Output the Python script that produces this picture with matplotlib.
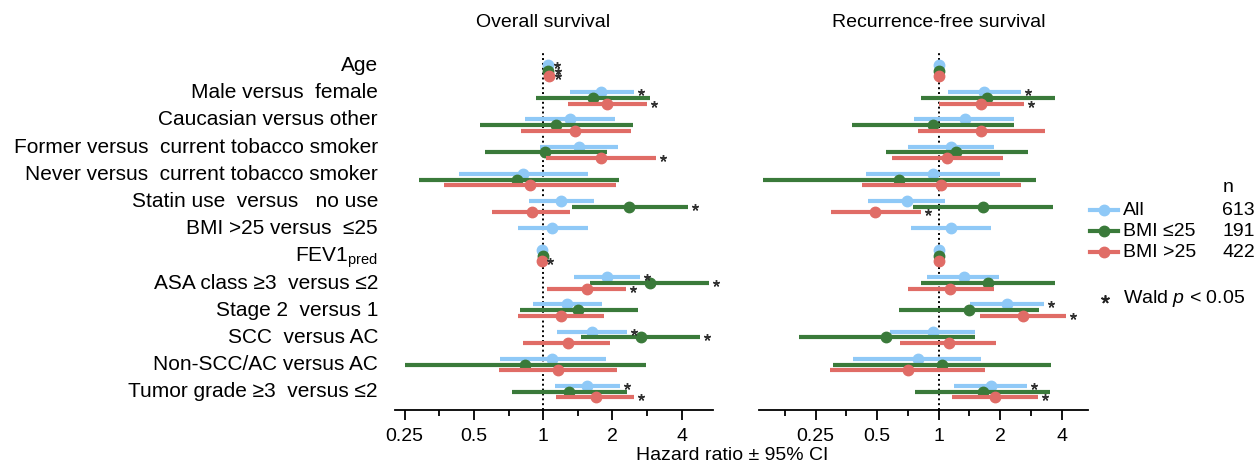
import numpy as np
import matplotlib
matplotlib.use('Agg')
import matplotlib.pyplot as plt
import matplotlib.transforms as mtransforms
from matplotlib.ticker import FixedLocator, NullFormatter

plt.rcParams['font.family'] = ['Liberation Sans', 'DejaVu Sans']
plt.rcParams['mathtext.fontset'] = 'custom'
plt.rcParams['mathtext.rm'] = 'Liberation Sans'
plt.rcParams['mathtext.it'] = 'Liberation Sans:italic'

row_labels = ['Age', 'Male versus  female', 'Caucasian versus other',
              'Former versus  current tobacco smoker',
              'Never versus  current tobacco smoker',
              'Statin use  versus   no use', 'BMI >25 versus  ≤25',
              'FEV1$_{\\mathregular{pred}}$', 'ASA class ≥3  versus ≤2',
              'Stage 2  versus 1', 'SCC  versus AC',
              'Non-SCC/AC versus AC', 'Tumor grade ≥3  versus ≤2']
groups = ['All', 'BMI ≤25', 'BMI >25']
group_n = [613, 191, 422]
colors = ['#8FC9F7', '#3A7A3A', '#E06C66']
panel_titles = ['Overall survival', 'Recurrence-free survival']
tick_vals = [0.25, 0.5, 1, 2, 4]
nan = np.nan

# Overall survival: rows = All, BMI <=25, BMI >25
os_hr = [[1.05, 1.79, 1.31, 1.43, 0.82, 1.19, 1.09, 0.99, 1.89, 1.27, 1.63, 1.09, 1.55],
         [1.05, 1.64, 1.14, 1.02, 0.77, 2.37, nan, 1.00, 2.91, 1.42, 2.65, 0.83, 1.30],
         [1.06, 1.90, 1.38, 1.78, 0.88, 0.89, nan, 0.99, 1.55, 1.20, 1.28, 1.16, 1.69]]
os_lo = [[1.03, 1.31, 0.83, 0.97, 0.43, 0.87, 0.78, 0.98, 1.36, 0.90, 1.15, 0.65, 1.12],
         [1.03, 0.93, 0.53, 0.56, 0.29, 1.33, nan, 0.99, 1.60, 0.79, 1.46, 0.25, 0.73],
         [1.04, 1.28, 0.80, 1.03, 0.37, 0.60, nan, 0.98, 1.04, 0.78, 0.82, 0.64, 1.14]]
os_hi = [[1.07, 2.48, 2.05, 2.12, 1.57, 1.66, 1.56, 1.00, 2.63, 1.80, 2.31, 1.87, 2.15],
         [1.08, 2.91, 2.46, 1.89, 2.13, 4.24, nan, 1.01, 5.26, 2.57, 4.79, 2.79, 2.32],
         [1.08, 2.82, 2.41, 3.09, 2.08, 1.31, nan, 1.00, 2.30, 1.84, 1.96, 2.09, 2.49]]
os_sig = [[1, 1, 0, 0, 0, 0, 0, 0, 1, 0, 1, 0, 1],
          [1, 0, 0, 0, 0, 1, 0, 0, 1, 0, 1, 0, 0],
          [1, 1, 0, 1, 0, 0, 0, 1, 1, 0, 0, 0, 1]]

# Recurrence-free survival
rfs_hr = [[1.00, 1.67, 1.35, 1.15, 0.94, 0.70, 1.15, 1.00, 1.33, 2.16, 0.94, 0.79, 1.80],
          [1.00, 1.73, 0.94, 1.22, 0.64, 1.65, nan, 1.00, 1.74, 1.41, 0.55, 1.04, 1.65],
          [1.00, 1.62, 1.62, 1.10, 1.03, 0.49, nan, 1.00, 1.14, 2.59, 1.12, 0.71, 1.89]]
rfs_lo = [[0.99, 1.11, 0.76, 0.71, 0.44, 0.45, 0.73, 0.99, 0.88, 1.43, 0.58, 0.38, 1.19],
          [0.99, 0.82, 0.375, 0.55, 0.138, 0.75, nan, 0.99, 0.82, 0.64, 0.207, 0.305, 0.77],
          [0.99, 1.00, 0.79, 0.59, 0.42, 0.296, nan, 0.99, 0.71, 1.59, 0.65, 0.295, 1.16]]
rfs_hi = [[1.01, 2.52, 2.34, 1.87, 2.00, 1.07, 1.80, 1.01, 1.98, 3.28, 1.50, 1.61, 2.71],
          [1.01, 3.71, 2.34, 2.74, 2.99, 3.64, nan, 1.01, 3.72, 3.10, 1.50, 3.55, 3.49],
          [1.01, 2.63, 3.30, 2.07, 2.52, 0.82, nan, 1.01, 1.87, 4.18, 1.91, 1.68, 3.05]]
rfs_sig = [[0, 1, 0, 0, 0, 0, 0, 0, 0, 1, 0, 0, 1],
           [0, 0, 0, 0, 0, 0, 0, 0, 0, 0, 0, 0, 0],
           [0, 1, 0, 0, 0, 1, 0, 0, 0, 1, 0, 0, 1]]

W, H = 1258, 465
fig = plt.figure(figsize=(W / 100, H / 100), dpi=100)

# rows after the BMI row sit a little closer (labels stay evenly spaced)
n_rows = len(row_labels)
row_y = np.array([i - 0.2 * (i > 6) for i in range(n_rows)])
sub_off = [0.0, 0.21, 0.42]
star_marker = (5, 2, 0)  # small asterisk

panels = [(os_hr, os_lo, os_hi, os_sig, (0.227, 5.47), 395, 713),
          (rfs_hr, rfs_lo, rfs_hi, rfs_sig, (0.132, 5.38), 759, 1088)]
axes = []
for p, (hr, lo, hi, sig, xlim, x0, x1) in enumerate(panels):
    ax = fig.add_axes([x0 / W, 1 - 410 / H, (x1 - x0) / W, (410 - 53) / H])
    axes.append(ax)
    ax.set_xscale('log', base=2)
    ax.set_xlim(*xlim)
    ax.set_ylim(12.68, -0.44)
    ax.axvline(1, color='black', ls=(0, (1, 1.5)), lw=1.4, zorder=1)
    star_tr = mtransforms.offset_copy(ax.transData, fig=fig, x=7, y=0, units='dots')
    for g in range(3):
        y = row_y + sub_off[g]
        h = np.array(hr[g]); l = np.array(lo[g]); u = np.array(hi[g])
        ok = ~np.isnan(h)
        ax.hlines(y[ok], l[ok], u[ok], color=colors[g], lw=3.0, zorder=2 + g)
        ax.plot(h[ok], y[ok], 'o', color=colors[g], ms=7.5, zorder=2 + g)
        s = np.array(sig[g]) == 1
        ax.plot(u[s], y[s], ls='none', marker=star_marker, ms=5, mew=1.0,
                color='#333333', transform=star_tr, zorder=6, clip_on=False)
    for s in ['top', 'right', 'left']:
        ax.spines[s].set_visible(False)
    ax.spines['bottom'].set_linewidth(1.3)
    ax.set_yticks([])
    ax.xaxis.set_major_locator(FixedLocator(tick_vals))
    ax.set_xticklabels([str(t) for t in tick_vals])
    ax.xaxis.set_minor_locator(FixedLocator([t * np.sqrt(2) for t in [0.125] + tick_vals]))
    ax.xaxis.set_minor_formatter(NullFormatter())
    ax.tick_params(axis='x', which='major', length=7, width=1.3, labelsize=14, pad=6)
    ax.tick_params(axis='x', which='minor', length=4, width=1.3)
    # panel title centred on HR = 1
    ax.annotate(panel_titles[p], (1, 1), xycoords=('data', 'axes fraction'), xytext=(0, 22),
                textcoords='offset points', ha='center', va='center', fontsize=14)

# row labels on an even grid
for i, lab in enumerate(row_labels):
    axes[0].annotate(lab, (0, i), xycoords=('figure fraction', 'data'),
                     xytext=(378, -6), textcoords='offset pixels', ha='right',
                     va='baseline', fontsize=15)

fig.text(732 / W, 1 - 455 / H, 'Hazard ratio ± 95% CI', ha='center', va='center', fontsize=14)

# legend drawn in pixel space
lg = fig.add_axes([1085 / W, 0, (W - 1085) / W, 1])
lg.set_xlim(1085, W)
lg.set_ylim(H, 0)
lg.axis('off')
lg.text(1228, 187, 'n', ha='center', va='center', fontsize=14)
for g in range(3):
    ly = 210 + 21 * g
    lg.plot([1090, 1118], [ly, ly], color=colors[g], lw=3.0)
    lg.plot([1104], [ly], 'o', color=colors[g], ms=7.5)
    lg.text(1123, ly, groups[g], ha='left', va='center', fontsize=14)
    lg.text(1255, ly, str(group_n[g]), ha='right', va='center', fontsize=14)
lg.plot([1105], [299], ls='none', marker=star_marker, ms=6, mew=1.2, color='#222222')
lg.text(1123, 298, 'Wald $\\it{p}$ < 0.05', ha='left', va='center', fontsize=14)

fig.savefig('out.png', dpi=100)
